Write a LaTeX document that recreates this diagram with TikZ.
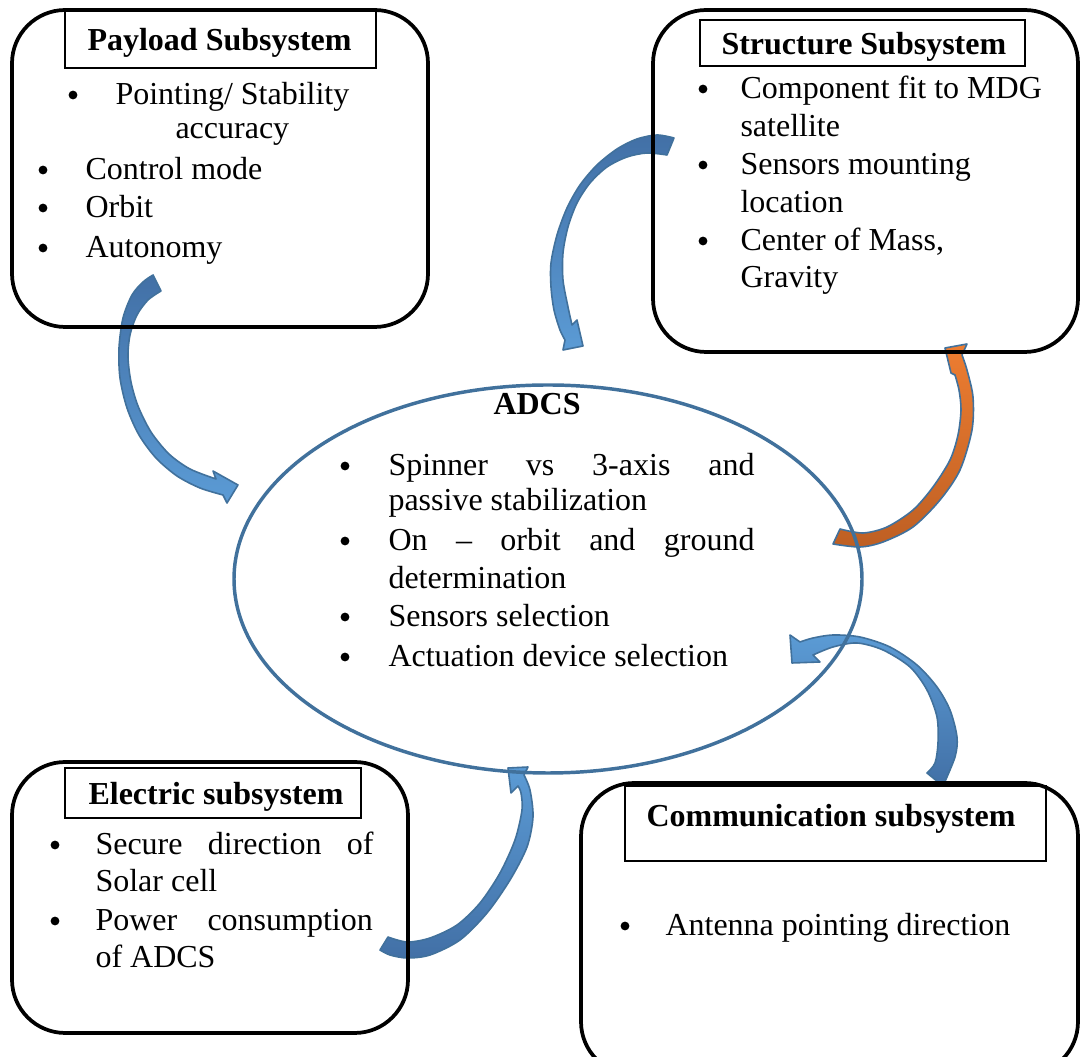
\documentclass[tikz,border=0pt]{standalone}
\usepackage{fontspec}
\setmainfont{Liberation Serif}
\usetikzlibrary{shapes.geometric,fit}
\definecolor{LineClr}{RGB}{65,113,156}
\definecolor{ArrowLight}{RGB}{91,155,213}
\definecolor{ArrowDark}{RGB}{66,112,166}
\definecolor{OrangeLight}{RGB}{237,125,49}
\definecolor{OrangeDark}{RGB}{190,95,35}

\begin{document}
\begin{tikzpicture}[x=0.375pt,y=-0.375pt,
  subbox/.style={draw=black,line width=1.4pt,rounded corners=20pt,inner sep=0pt},
  titlebox/.style={draw=black,line width=0.5pt,inner sep=0pt},
  item/.style={anchor=base west,inner sep=0pt,font=\fontsize{12}{14}\selectfont},
  head/.style={item,font=\fontsize{12}{14}\selectfont\bfseries},
  dot/.style={circle,fill=black,inner sep=0pt,minimum size=3.3pt},
  blockarrow/.style={draw=LineClr,line width=0.6pt,line join=round}]
\useasboundingbox (0,0) rectangle (1080,1057);
\clip (0,0) rectangle (1080,1057);

\path[blockarrow,top color=ArrowDark,bottom color=ArrowLight]
  plot[smooth] coordinates {(153,275) (143,282) (132,295) (123,318) (119,348) (120,378) (127,408) (139,435) (156,458) (177,476) (200,488) (223,495)}
  -- (227,503) -- (238,485) -- (213,471) --
  plot[smooth] coordinates {(216,479) (190,469) (169,454) (151,432) (138,406) (131,382) (128,357) (130,335) (137,315) (148,300) (161,291)} -- cycle;

\path[blockarrow,top color=ArrowDark,bottom color=ArrowLight]
  plot[smooth] coordinates {(674,138) (657,135) (637,139) (617,149) (597,165) (580,185) (567,208) (557,235) (551,263) (551,287) (554,310) (560,330) (565,340)}
  -- (563,350) -- (583,346) -- (577,320) --
  plot[smooth] coordinates {(572,325) (568,307) (563,280) (563,253) (568,227) (577,203) (590,183) (607,167) (627,157) (647,153) (667,155)} -- cycle;

\path[blockarrow,top color=OrangeLight,bottom color=OrangeDark]
  plot[smooth] coordinates {(833,544) (860,547) (883,542) (913,527) (940,500) (960,470) (972,430) (973,397) (967,370) (962,355)}
  -- (967,344) -- (945,348) -- (951,373) --
  plot[smooth] coordinates {(955,375) (959,390) (961,410) (958,435) (950,460) (933,487) (913,510) (887,527) (863,533) (840,529)} -- cycle;

\path[blockarrow,top color=ArrowLight,bottom color=ArrowDark]
  plot[smooth] coordinates {(943,786) (955,757) (957,737) (950,710) (937,687) (917,665) (890,647) (860,637) (833,635) (813,638) (800,642)}
  -- (790,635) -- (792,663) -- (820,662) --
  plot[smooth] coordinates {(813,655) (833,647) (857,643) (883,650) (910,667) (927,690) (937,717) (938,743) (935,763) (927,773)} -- cycle;

\path[blockarrow,top color=ArrowLight,bottom color=ArrowDark]
  plot[smooth] coordinates {(388,937) (407,942) (430,938) (457,925) (480,903) (500,873) (515,840) (522,810) (521,793) (518,786)}
  -- (511,793) -- (508,768) -- (528,767) --
  plot[smooth] coordinates {(524,775) (530,790) (533,817) (527,847) (510,880) (487,913) (460,940) (430,955) (407,958) (390,955) (380,950)} -- cycle;

\node[subbox,fit={(12,10)(428,327)}] (payload) {};
\node[subbox,fit={(653,10)(1078,352)}] (structure) {};
\node[subbox,fit={(12,762)(408,1033)}] (electric) {};
\node[subbox,fit={(581,783)(1078,1075)}] (comm) {};
\node[draw=LineClr,line width=1.3pt,ellipse,inner sep=0pt,minimum width=235.5pt,minimum height=145.5pt] (adcs) at (548,579) {};

\node[titlebox,fit={(65,11)(376,68)}] (payloadtitle) {};
\node[titlebox,fit={(700,20)(1025,66)}] (structuretitle) {};
\node[titlebox,fit={(65,768)(361,818)}] (electrictitle) {};
\node[titlebox,fit={(625,786)(1046,861)}] (commtitle) {};

\node[head] (payloadhead) at (87,51) {Payload Subsystem};
\node[dot] (pd1) at (73,95) {};
\node[item] (p1) at (115,105) {Pointing/ Stability};
\node[item] (p1b) at (175,139) {accuracy};
\node[dot] (pd2) at (43,170) {};
\node[item] (p2) at (85,180) {Control mode};
\node[dot] (pd3) at (43,208) {};
\node[item] (p3) at (85,218) {Orbit};
\node[dot] (pd4) at (43,248) {};
\node[item] (p4) at (85,258) {Autonomy};

\node[head] (structurehead) at (721,55) {Structure Subsystem};
\node[dot] (sd1) at (703,89) {};
\node[item] (s1) at (740,99) {Component fit to MDG};
\node[item] (s1b) at (740,137) {satellite};
\node[dot] (sd2) at (703,165) {};
\node[item] (s2) at (740,175) {Sensors mounting};
\node[item] (s2b) at (740,213) {location};
\node[dot] (sd3) at (703,241) {};
\node[item] (s3) at (740,251) {Center of Mass,};
\node[item] (s3b) at (740,288) {Gravity};

\node[head] (adcshead) at (493,415) {ADCS};
\node[dot] (ad1) at (345,466) {};
\node[item] (a1) at (388,476) {\makebox[137.25pt][s]{Spinner vs 3-axis and}};
\node[item] (a1b) at (388,511) {passive stabilization};
\node[dot] (ad2) at (345,541) {};
\node[item] (a2) at (388,551) {\makebox[137.25pt][s]{On – orbit and ground}};
\node[item] (a2b) at (388,589) {determination};
\node[dot] (ad3) at (345,617) {};
\node[item] (a3) at (388,627) {Sensors selection};
\node[dot] (ad4) at (345,657) {};
\node[item] (a4) at (388,667) {Actuation device selection};

\node[head] (electrichead) at (88,805) {Electric subsystem};
\node[dot] (ed1) at (55,845) {};
\node[item] (e1) at (95,855) {\makebox[104.25pt][s]{Secure direction of}};
\node[item] (e1b) at (95,892) {Solar cell};
\node[dot] (ed2) at (55,921) {};
\node[item] (e2) at (95,931) {\makebox[104pt][s]{Power consumption}};
\node[item] (e2b) at (95,968) {of ADCS};

\node[head] (commhead) at (646,827) {Communication subsystem};
\node[dot] (cd1) at (625,926) {};
\node[item] (c1) at (665,936) {Antenna pointing direction};

\end{tikzpicture}
\end{document}
